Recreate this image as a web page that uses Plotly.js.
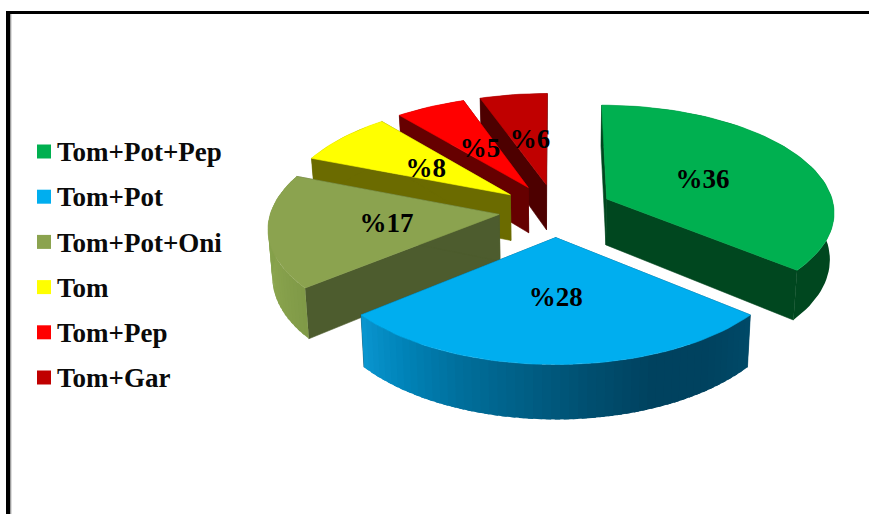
<!DOCTYPE html>
<html>
<head>
<meta charset="utf-8">
<script src="https://cdn.plot.ly/plotly-3.0.1.min.js"></script>
<style>html,body{margin:0;padding:0;background:#fff}#chart{width:869px;height:514px}</style>
</head>
<body>
<div id="chart"></div>
<script>
// ---- data ----
const categories = ['Tom+Pot+Pep', 'Tom+Pot', 'Tom+Pot+Oni', 'Tom', 'Tom+Pep', 'Tom+Gar'];
const shares = [36, 28, 17, 8, 5.6, 5.4];
const dataLabels = ['%36', '%28', '%17', '%8', '%5', '%6'];
const topColors = ['#00B050', '#00AEEF', '#8BA34F', '#FFFF00', '#FF0000', '#C00000'];
const faceColors = ['#00471F', '#004A68', '#4D5C2E', '#6B6B00', '#660000', '#4D0000'];
const rimColors = [
  ['#00471F'],
  ['#004A68', '#00425F', '#00425F', '#004F70', '#005F86', '#006F9C', '#0083B8', '#0A96D0'],
  ['#7F9947', '#8AA44E', '#84A04A', '#7C9646'],
  ['#6B6B00'],
  ['#660000'],
  ['#4D0000']
];
const drawOrder = [5, 4, 3, 2, 0, 1];

// ---- projection of the tilted, exploded pie into pixel-like axis units ----
const view = {cx: 555.7, cy: 210.2, cyB: 256.7, R: 228, Rv: 106.5, RvB: 112.3, kB: 0.985, p: 0.11, e: 0.25, labelR: 0.47};
const labelNudge = [[3, 2.5], [0, 6], [-5, 3], [-3, 3], [0, 2], [0, 1]];
const rad = d => d * Math.PI / 180;
function project(X, Y, low) {
  const s = 1 / (1 - view.p * Y);
  return low
    ? [view.cx + view.R * view.kB * X * s, view.cyB + view.RvB * Y * s]
    : [view.cx + view.R * X * s, view.cy + view.Rv * Y * s];
}
function point(mid, ang, r, low) {
  const X = view.e * Math.sin(rad(mid)) + r * Math.sin(rad(ang));
  const Y = -view.e * Math.cos(rad(mid)) - r * Math.cos(rad(ang));
  return project(X, Y, low);
}
function poly(pts, color, width) {
  return {
    type: 'scatter', mode: 'lines', fill: 'toself', fillcolor: color,
    x: pts.map(p => p[0]).concat([pts[0][0]]),
    y: pts.map(p => p[1]).concat([pts[0][1]]),
    line: {color: color, width: width === undefined ? 0.6 : width}, hoverinfo: 'skip', showlegend: false
  };
}
function arc(mid, a0, a1, low) {
  const out = [], n = Math.max(2, Math.ceil((a1 - a0) / 2));
  for (let i = 0; i <= n; i++) out.push(point(mid, a0 + (a1 - a0) * i / n, 1, low));
  return out;
}
function hex(c) { return [1, 3, 5].map(i => parseInt(c.substr(i, 2), 16)); }
function mix(stops, t) {
  if (stops.length === 1) return stops[0];
  const f = t * (stops.length - 1), i = Math.min(stops.length - 2, Math.floor(f)), u = f - i;
  const a = hex(stops[i]), b = hex(stops[i + 1]);
  return 'rgb(' + a.map((v, k) => Math.round(v + (b[k] - v) * u)).join(',') + ')';
}

// ---- angular spans from the shares ----
const total = shares.reduce((a, b) => a + b, 0);
let acc = 0;
const spans = shares.map(v => { const a0 = acc; acc += v / total * 360; return [a0, acc]; });

const traces = [];
drawOrder.forEach(i => {
  const [a0, a1] = spans[i], mid = (a0 + a1) / 2;
  [a0, a1].forEach(a => {
    traces.push(poly([point(mid, 0, 0, false), point(mid, a, 1, false), point(mid, a, 1, true), point(mid, 0, 0, true)], faceColors[i]));
  });
  const stops = rimColors[i];
  const strips = stops.length === 1 ? 1 : Math.ceil((a1 - a0) / 2);
  for (let k = 0; k < strips; k++) {
    const b0 = a0 + (a1 - a0) * k / strips;
    const b1 = Math.min(a1, a0 + (a1 - a0) * (k + 1) / strips + 1.2);
    traces.push(poly(arc(mid, b0, b1, false).concat(arc(mid, b0, b1, true).reverse()), mix(stops, (k + 0.5) / strips), 0));
  }
  traces.push(poly([point(mid, 0, 0, false)].concat(arc(mid, a0, a1, false)), topColors[i]));
});

// data labels
const labelPts = spans.map(([a0, a1], i) => {
  const m = (a0 + a1) / 2, p = point(m, m, view.labelR, false);
  return [p[0] + labelNudge[i][0], p[1] + labelNudge[i][1]];
});
traces.push({
  type: 'scatter', mode: 'text', x: labelPts.map(p => p[0]), y: labelPts.map(p => p[1]),
  text: dataLabels, textposition: 'middle center',
  textfont: {family: 'Liberation Serif', size: 27, color: '#000', weight: 700},
  hoverinfo: 'skip', showlegend: false, cliponaxis: false
});

// legend
const legendRows = categories.map((c, i) => 151.5 + i * 45.2);
traces.push({
  type: 'scatter', mode: 'markers', x: categories.map(() => 44), y: legendRows,
  marker: {symbol: 'square', size: 14, color: topColors, line: {width: 0}},
  hoverinfo: 'skip', showlegend: false
});
traces.push({
  type: 'scatter', mode: 'text', x: categories.map(() => 57), y: legendRows.map(v => v + 3),
  text: categories, textposition: 'middle right',
  textfont: {family: 'Liberation Serif', size: 27, color: '#0a0a0a', weight: 700},
  hoverinfo: 'skip', showlegend: false, cliponaxis: false
});

const hidden = {visible: false, fixedrange: true, showgrid: false, zeroline: false};
const layout = {
  width: 869, height: 514, margin: {l: 0, r: 0, t: 0, b: 0},
  paper_bgcolor: '#fff', plot_bgcolor: '#fff', showlegend: false,
  xaxis: Object.assign({range: [0, 869]}, hidden),
  yaxis: Object.assign({range: [514, 0]}, hidden),
  shapes: [
    {type: 'rect', xref: 'x', yref: 'y', x0: 6, x1: 10.5, y0: 11, y1: 514, fillcolor: '#000', line: {width: 0}, layer: 'above'},
    {type: 'rect', xref: 'x', yref: 'y', x0: 6, x1: 869, y0: 11, y1: 14, fillcolor: '#000', line: {width: 0}, layer: 'above'},
    {type: 'rect', xref: 'x', yref: 'y', x0: 10.5, x1: 11.5, y0: 14, y1: 514, fillcolor: '#bbb', line: {width: 0}, layer: 'above'}
  ]
};
Plotly.newPlot('chart', traces, layout, {displayModeBar: false, staticPlot: true});
</script>
</body>
</html>
